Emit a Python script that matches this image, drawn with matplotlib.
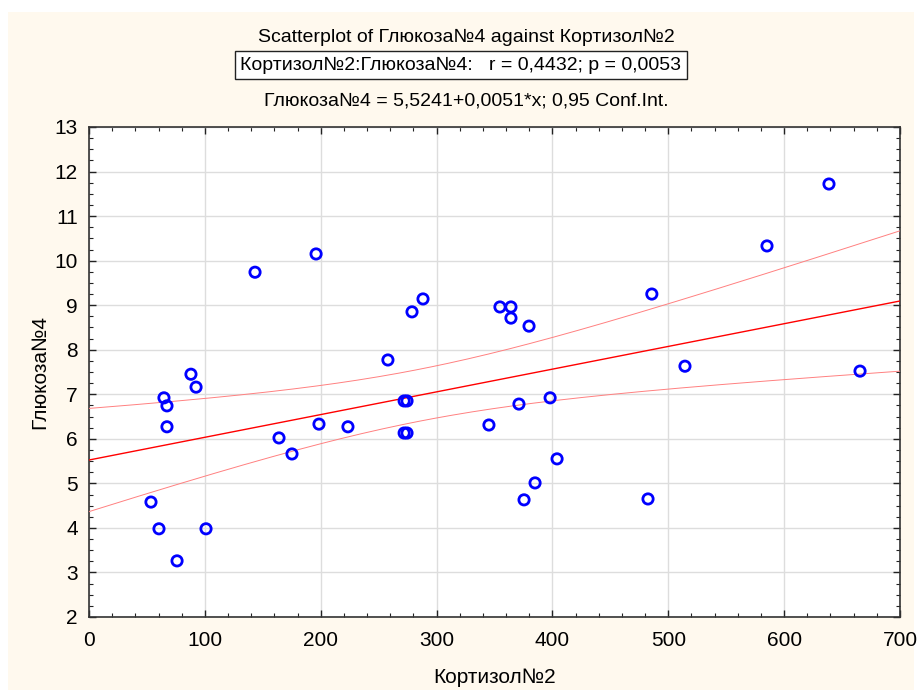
import numpy as np
import matplotlib
matplotlib.use('Agg')
import matplotlib.pyplot as plt
from matplotlib.patches import Rectangle
from matplotlib.ticker import MultipleLocator

plt.rcParams['font.family'] = ['Liberation Sans Narrow', 'Liberation Sans', 'DejaVu Sans']

# Кортизол№2 / Глюкоза№4
cortisol = [53.5, 60.4, 64.7, 67.3, 67.3, 76.0, 88.0, 92.4, 101.0, 143.3,
            164.0, 175.2, 196.0, 198.5, 223.5, 258.0, 272.0, 274.5, 272.0, 274.5,
            278.8, 288.3, 345.2, 354.7, 364.2, 364.2, 379.8, 371.1, 375.5, 385.0,
            398.0, 404.0, 482.5, 485.8, 514.4, 585.2, 638.7, 665.5]
glucose = [4.58, 3.98, 6.92, 6.74, 6.27, 3.26, 7.45, 7.16, 3.98, 9.74,
           6.02, 5.66, 10.15, 6.33, 6.27, 7.77, 6.85, 6.85, 6.13, 6.13,
           8.85, 9.14, 6.31, 8.96, 8.96, 8.71, 8.53, 6.78, 4.63, 5.01,
           6.92, 5.55, 4.65, 9.25, 7.63, 10.33, 11.72, 7.52]

intercept = 5.5241
slope = 0.0051

x = np.array(cortisol)
y = np.array(glucose)
n = len(x)

# 95% confidence band of the regression line
xs = np.linspace(0, 700, 200)
fit = intercept + slope * xs
resid = y - (intercept + slope * x)
s = np.sqrt(np.sum(resid ** 2) / (n - 2))
sxx = np.sum((x - x.mean()) ** 2)
t = 2.028
half = t * s * np.sqrt(1 / n + (xs - x.mean()) ** 2 / sxx)

fig = plt.figure(figsize=(9.17, 6.90), dpi=100)
fig.patch.set_facecolor('white')
fig.patches.append(Rectangle((8 / 917, 0), 906 / 917, 678 / 690, transform=fig.transFigure,
                             facecolor='#FFF9EE', edgecolor='none', zorder=-10))

ax = fig.add_axes([89 / 917, 73 / 690, 811 / 917, 490 / 690])
ax.set_facecolor('white')

ax.plot(xs, fit, color='#FF0000', lw=1.0, zorder=3)
ax.plot(xs, fit + half, color='#FF8080', lw=0.7, zorder=3)
ax.plot(xs, fit - half, color='#FF8080', lw=0.7, zorder=3)
ax.scatter(x, y, s=55, facecolors='none', edgecolors='#0000FF', linewidths=2, zorder=4)

ax.set_xlim(0, 700)
ax.set_ylim(2, 13)
ax.xaxis.set_major_locator(MultipleLocator(100))
ax.xaxis.set_minor_locator(MultipleLocator(20))
ax.yaxis.set_major_locator(MultipleLocator(1))
ax.yaxis.set_minor_locator(MultipleLocator(0.25))
ax.tick_params(which='both', direction='in', top=True, right=True, colors='#222222',
               labelsize=15, labelcolor='black')
ax.tick_params(which='major', length=5, width=1)
ax.tick_params(which='minor', length=3, width=0.8)
ax.tick_params(axis='x', pad=10)
ax.tick_params(axis='y', pad=8)
ax.grid(True, which='major', color='#DDDDDD', lw=1)
ax.set_axisbelow(True)
for sp in ax.spines.values():
    sp.set_color('#333333')
    sp.set_linewidth(1.2)

ax.set_xlabel('Кортизол№2', fontsize=15, labelpad=13)
ax.set_ylabel('Глюкоза№4', fontsize=15, labelpad=4)

fig.text(466 / 917, 1 - 37 / 690, 'Scatterplot of Глюкоза№4 against Кортизол№2',
         ha='center', va='center', fontsize=14)
fig.text(461 / 917, 1 - 65 / 690, 'Кортизол№2:Глюкоза№4:   r = 0,4432; p = 0,0053',
         ha='center', va='center', fontsize=14,
         bbox=dict(boxstyle='square,pad=0.3', facecolor='white', edgecolor='#222222', lw=1))
fig.text(466 / 917, 1 - 101 / 690, 'Глюкоза№4 = 5,5241+0,0051*x; 0,95 Conf.Int.',
         ha='center', va='center', fontsize=14)

fig.savefig('out.png', dpi=100, facecolor=fig.get_facecolor())
